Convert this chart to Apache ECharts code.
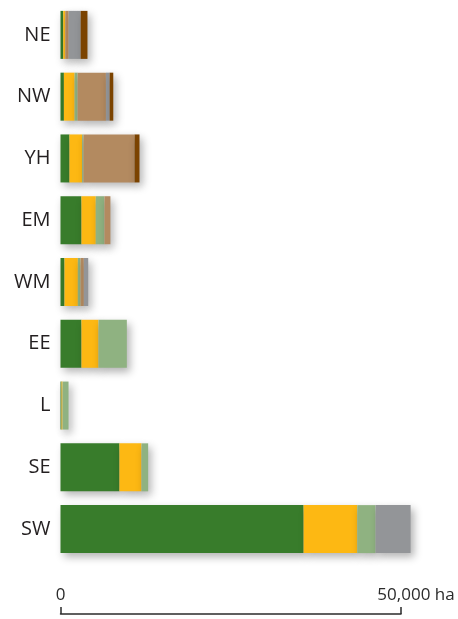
<!DOCTYPE html>
<html>
<head>
<meta charset="utf-8">
<script src="https://cdn.jsdelivr.net/npm/echarts@6/dist/echarts.min.js"></script>
<style>
html,body{margin:0;padding:0;background:#fff;}
#chart{width:458px;height:619px;}
</style>
</head>
<body>
<div id="chart"></div>
<script>
const categories = ['NE','NW','YH','EM','WM','EE','L','SE','SW'];
const seriesNames = ['Type 1','Type 2','Type 3','Type 4','Type 5','Type 6'];
const darkGreen  = [400, 500, 1320, 3080, 590, 3080, 150, 8660, 35700];
const yellow     = [300, 1570, 1860, 2100, 1960, 2500, 150, 3230, 7880];
const lightGreen = [0, 440, 200, 1270, 390, 4160, 880, 980, 2690];
const tan        = [500, 4160, 7490, 880, 490, 0, 0, 0, 0];
const grey       = [1760, 540, 0, 0, 640, 0, 0, 0, 5140];
const brown      = [1000, 540, 730, 0, 0, 0, 0, 0, 0];
const tickValues = [0, 50000];
const tickLabels = ['0', '50,000'];
const unit = 'ha';

const allValues = [darkGreen, yellow, lightGreen, tan, grey, brown];
const colors = ['#387C2B','#FDB813','#8FB281','#B38A60','#939598','#7B4300'];

const chart = echarts.init(document.getElementById('chart'));
chart.setOption({
  backgroundColor: '#fff',
  animation: false,
  grid: { left: 60.5, right: 57, top: 4, bottom: 59 },
  xAxis: {
    type: 'value',
    min: tickValues[0],
    max: tickValues[1],
    interval: tickValues[1] - tickValues[0],
    offset: 54,
    splitLine: { show: false },
    axisLine: { show: true, lineStyle: { color: '#2b2b2b', width: 1.5 } },
    axisTick: { show: true, inside: true, length: 7, lineStyle: { color: '#2b2b2b', width: 1.5 } },
    axisLabel: {
      inside: true,
      margin: 10,
      fontFamily: 'Open Sans',
      fontSize: 17,
      color: '#2b2b2b',
      formatter: function (v) {
        const i = tickValues.indexOf(v);
        if (i === tickValues.length - 1) return '{sp|}' + tickLabels[i] + ' ' + unit;
        return i >= 0 ? tickLabels[i] : '';
      },
      rich: { sp: { width: 30 } }
    }
  },
  yAxis: {
    type: 'category',
    data: categories,
    inverse: true,
    axisLine: { show: false },
    axisTick: { show: false },
    axisLabel: { fontFamily: 'Open Sans', fontSize: 20, color: '#231F20', margin: 10 }
  },
  series: allValues.map((vals, i) => ({
    name: seriesNames[i],
    type: 'bar',
    stack: 'total',
    clip: false,
    barWidth: 48,
    data: vals,
    itemStyle: {
      color: colors[i],
      shadowBlur: 8,
      shadowColor: 'rgba(0,0,0,0.3)',
      shadowOffsetX: 3,
      shadowOffsetY: 4
    }
  }))
});
</script>
</body>
</html>
